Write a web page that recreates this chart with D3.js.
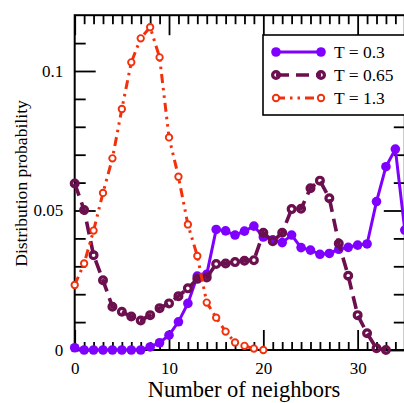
<!DOCTYPE html>
<html>
<head>
<meta charset="utf-8">
<script src="https://cdn.jsdelivr.net/npm/d3@7"></script>
<style>
  body { margin: 0; background: #fff; }
  svg { display: block; }
  text { font-family: "Liberation Serif", "Times New Roman", serif; fill: #000; }
</style>
</head>
<body>
<div id="chart"></div>
<script>

// DATA (index = number of neighbors)
var seriesNames = ["T = 0.3", "T = 0.65", "T = 1.3"];

var probT03 = [0.0008, 0, 0, 0, 0, 0, 0, 0, 0.0011, 0.0026, 0.0053, 0.0101, 0.0167, 0.0265,
    0.0271, 0.0432, 0.0427, 0.0412, 0.0426, 0.0444, 0.0405, 0.0395, 0.0385, 0.0412, 0.0367,
    0.0358, 0.0343, 0.0346, 0.0361, 0.0368, 0.0376, 0.0380, 0.0532, 0.0657, 0.0720, 0.0430];

var probT065 = [0.0597, 0.0502, 0.0340, 0.0250, 0.0155, 0.0137, 0.0120, 0.0106, 0.0125, 0.0150,
    0.0167, 0.0193, 0.0221, 0.0255, 0.0260, 0.0308, 0.0310, 0.0315, 0.0320, 0.0322, 0.0420,
    0.0390, 0.0420, 0.0505, 0.0506, 0.0580, 0.0607, 0.0544, 0.0382, 0.0266, 0.0125, 0.0060,
    0.0006, 0.0];

var probT13 = [0.0233, 0.0310, 0.0428, 0.0563, 0.0687, 0.0864, 0.1031, 0.1117, 0.1157, 0.1049,
    0.0762, 0.0621, 0.0450, 0.0337, 0.0170, 0.0116, 0.0066, 0.0027, 0.0015, 0.0005, 0.0];

var xTicks = [0, 10, 20, 30];
var xTickLabels = ["0", "10", "20", "30"];
var yTicks = [0, 0.05, 0.1];
var yTickLabels = ["0", "0.05", "0.1"];

// SETTING DIMENSIONS
var svgWidth = 404;
var svgHeight = 403;

var margin = {
    top: 15.2,
    right: -0.8,
    bottom: 53,
    left: 74.7};

var width = svgWidth - margin.left - margin.right;
var height = svgHeight - margin.top - margin.bottom;

var svg = d3.select("#chart")
    .append("svg")
    .attr("width", svgWidth)
    .attr("height", svgHeight);

var chartGroup = svg.append("g")
    .attr("transform", `translate(${margin.left}, ${margin.top})`);

// SCALES
var x = d3.scaleLinear().domain([0, 35]).range([0, width]);
var y = d3.scaleLinear().domain([0, 0.12]).range([height, 0]);

var xMinor = d3.range(0, 36).filter(function(d) { return d % 10 !== 0; });
var yMinor = [0.01, 0.02, 0.03, 0.04, 0.06, 0.07, 0.08, 0.09, 0.11];

// AXES (TICKS POINT INWARD ON ALL FOUR SIDES)
function styleAxis(g) {
    g.select(".domain").remove();
    g.selectAll(".tick line").attr("stroke", "#000").attr("stroke-width", 1.8);
    g.selectAll(".tick text").style("font-size", "17px").style("font-family", "'Liberation Serif', serif").attr("fill", "#000");
}

// bottom
chartGroup.append("g")
    .attr("transform", "translate(0," + height + ")")
    .call(d3.axisBottom(x).tickValues(xTicks).tickFormat(function(d, i) { return xTickLabels[i]; })
        .tickSize(-20).tickPadding(11.5))
    .call(styleAxis);
chartGroup.append("g")
    .attr("transform", "translate(0," + height + ")")
    .call(d3.axisBottom(x).tickValues(xMinor).tickFormat("").tickSize(-8))
    .call(styleAxis);

// top
chartGroup.append("g")
    .call(d3.axisTop(x).tickValues(xTicks).tickFormat("").tickSize(-20))
    .call(styleAxis);
chartGroup.append("g")
    .call(d3.axisTop(x).tickValues(xMinor).tickFormat("").tickSize(-9))
    .call(styleAxis);

// left
chartGroup.append("g")
    .call(d3.axisLeft(y).tickValues(yTicks).tickFormat(function(d, i) { return yTickLabels[i]; })
        .tickSize(-21).tickPadding(11.5))
    .call(styleAxis);
chartGroup.append("g")
    .call(d3.axisLeft(y).tickValues(yMinor).tickFormat("").tickSize(-11))
    .call(styleAxis);

// right
chartGroup.append("g")
    .attr("transform", "translate(" + width + ",0)")
    .call(d3.axisRight(y).tickValues(yTicks).tickFormat("").tickSize(-21))
    .call(styleAxis);
chartGroup.append("g")
    .attr("transform", "translate(" + width + ",0)")
    .call(d3.axisRight(y).tickValues(yMinor).tickFormat("").tickSize(-11))
    .call(styleAxis);

// FRAME
chartGroup.append("rect")
    .attr("x", 0).attr("y", 0)
    .attr("width", width).attr("height", height)
    .attr("fill", "none")
    .attr("stroke", "#000")
    .attr("stroke-width", 2);

// SERIES STYLES
var styles = [
    {color: "#7f00ff", width: 3, dash: null, r: 4.8, fill: "#7f00ff", mstroke: 0},
    {color: "#6b0f4e", width: 3.6, dash: "13,7", r: 3.4, fill: "none", mstroke: 3.2},
    {color: "#f2300c", width: 3, dash: "9,5,2.5,5,2.5,5", r: 3.2, fill: "#fff", mstroke: 1.9}
];
var allSeries = [probT03, probT065, probT13];

var line = d3.line()
    .x(function(d, i) { return x(i); })
    .y(function(d) { return y(d); });

allSeries.forEach(function(values, k) {
    var s = styles[k];
    var g = chartGroup.append("g");

    g.append("path")
        .datum(values)
        .attr("d", line)
        .attr("fill", "none")
        .attr("stroke", s.color)
        .attr("stroke-width", s.width)
        .attr("stroke-dasharray", s.dash);

    g.selectAll("circle")
        .data(values)
        .enter()
        .append("circle")
        .attr("cx", function(d, i) { return x(i); })
        .attr("cy", function(d) { return y(d); })
        .attr("r", s.r)
        .attr("fill", s.fill)
        .attr("stroke", s.color)
        .attr("stroke-width", s.mstroke);
});

// LEGEND
var legend = svg.append("g");

legend.append("rect")
    .attr("x", 263).attr("y", 35)
    .attr("width", 150).attr("height", 80)
    .attr("fill", "#fff")
    .attr("stroke", "#000")
    .attr("stroke-width", 1.6);

seriesNames.forEach(function(name, k) {
    var s = styles[k];
    var ly = 52 + k * 23;

    legend.append("line")
        .attr("x1", 276).attr("x2", 321)
        .attr("y1", ly).attr("y2", ly)
        .attr("stroke", s.color)
        .attr("stroke-width", s.width)
        .attr("stroke-dasharray", s.dash);

    [276, 321].forEach(function(cx) {
        legend.append("circle")
            .attr("cx", cx).attr("cy", ly)
            .attr("r", s.r)
            .attr("fill", s.fill)
            .attr("stroke", s.color)
            .attr("stroke-width", s.mstroke);
    });

    legend.append("text")
        .attr("x", 334)
        .attr("y", ly + 6)
        .style("font-size", "17.5px")
        .text(name);
});

// AXIS LABELS
svg.append("text")
    .attr("x", 244)
    .attr("y", 397)
    .attr("text-anchor", "middle")
    .style("font-size", "22.5px")
    .text("Number of neighbors");

svg.append("text")
    .attr("transform", "translate(27,183.5) rotate(-90)")
    .attr("text-anchor", "middle")
    .style("font-size", "17.6px")
    .text("Distribution probability");

</script>
</body>
</html>
